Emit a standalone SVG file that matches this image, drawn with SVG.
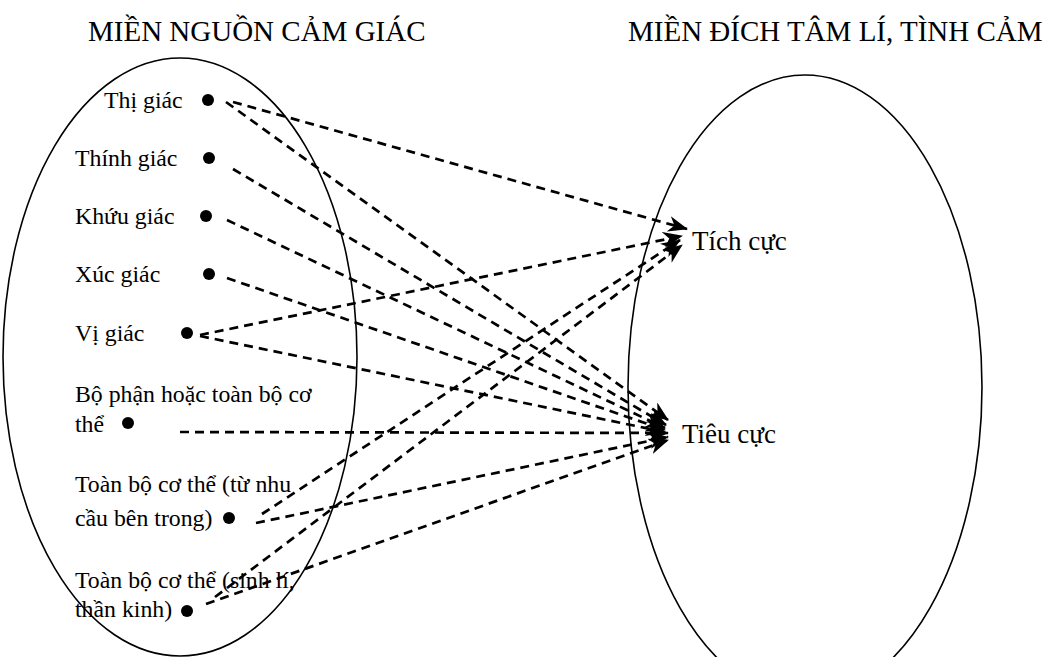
<svg xmlns="http://www.w3.org/2000/svg" width="1051" height="657" viewBox="0 0 1051 657">
<defs>
<style>
text{font-family:"Liberation Serif","Times New Roman",serif;fill:#000}
.title{font-size:29px}
.lbl{font-size:23.8px}
.tgt{font-size:27px}
.dot{fill:#000}
.region{fill:none;stroke:#000;stroke-width:1.6}
.conn{fill:none;stroke:#000;stroke-width:2.7;stroke-dasharray:9 6;marker-end:url(#arr)}
</style>
<marker id="arr" viewBox="0 0 20 16" refX="19" refY="8" markerWidth="20" markerHeight="16" markerUnits="userSpaceOnUse" orient="auto">
<path d="M0,0 L20,8 L0,16 L6,8 Z" fill="#000"/>
</marker>
</defs>
<rect width="1051" height="657" fill="#fff"/>
<g id="source-region">
<ellipse class="region" cx="180" cy="357" rx="177" ry="299"/>
<text class="title" x="88" y="41">MIỀN NGUỒN CẢM GIÁC</text>
</g>
<g id="target-region">
<ellipse class="region" cx="805" cy="387" rx="177" ry="312"/>
<text class="title" x="628" y="41">MIỀN ĐÍCH TÂM LÍ, TÌNH CẢM</text>
</g>
<g id="thi-giac"><text class="lbl" x="104" y="108">Thị giác</text><circle class="dot" cx="208" cy="100" r="6"/></g>
<g id="thinh-giac"><text class="lbl" x="75" y="166">Thính giác</text><circle class="dot" cx="209" cy="158" r="6"/></g>
<g id="khuu-giac"><text class="lbl" x="75" y="224">Khứu giác</text><circle class="dot" cx="206" cy="216" r="6"/></g>
<g id="xuc-giac"><text class="lbl" x="75" y="282">Xúc giác</text><circle class="dot" cx="209" cy="274" r="6"/></g>
<g id="vi-giac"><text class="lbl" x="75" y="341">Vị giác</text><circle class="dot" cx="187" cy="333" r="6"/></g>
<g id="bo-phan"><text class="lbl" x="75" y="402">Bộ phận hoặc toàn bộ cơ</text><text class="lbl" x="75" y="432">thể</text><circle class="dot" cx="128" cy="423" r="6"/></g>
<g id="nhu-cau"><text class="lbl" x="75" y="492">Toàn bộ cơ thể (từ nhu</text><text class="lbl" x="75" y="526">cầu bên trong)</text><circle class="dot" cx="229" cy="518" r="6"/></g>
<g id="sinh-li"><text class="lbl" x="75" y="588">Toàn bộ cơ thể (sinh lí,</text><text class="lbl" x="75" y="617">thần kinh)</text><circle class="dot" cx="187" cy="611" r="6"/></g>
<g id="tich-cuc"><text class="tgt" x="692" y="250">Tích cực</text></g>
<g id="tieu-cuc"><text class="tgt" x="682" y="443">Tiêu cực</text></g>
<g id="connectors">
<path class="conn" d="M233,102 L687,229"/>
<path class="conn" d="M226,102 L668,420"/>
<path class="conn" d="M233,169 L666,425"/>
<path class="conn" d="M227,220 L665,428"/>
<path class="conn" d="M227,278 L665,430"/>
<path class="conn" d="M200,335 L682,236"/>
<path class="conn" d="M200,336 L665,432"/>
<path class="conn" d="M180,432 L668,433"/>
<path class="conn" d="M262,514 L680,240"/>
<path class="conn" d="M256,523 L668,437"/>
<path class="conn" d="M215,597 L682,245"/>
<path class="conn" d="M206,604 L668,440"/>
</g>
</svg>
